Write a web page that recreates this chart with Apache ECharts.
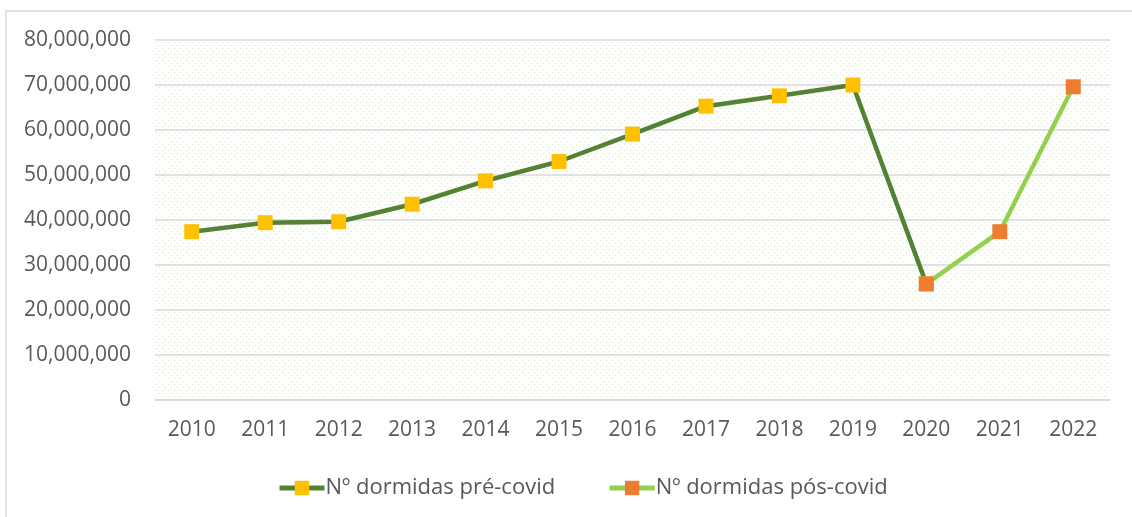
<!DOCTYPE html>
<html>
<head>
<meta charset="utf-8">
<script src="https://cdn.jsdelivr.net/npm/echarts@6/dist/echarts.min.js"></script>
<style>
  html, body { margin: 0; padding: 0; background: #fff; }
  #chart { width: 1132px; height: 517px; }
</style>
</head>
<body>
<div id="chart"></div>
<script>
// dados
let anos = ['2010', '2011', '2012', '2013', '2014', '2015', '2016', '2017', '2018', '2019', '2020', '2021', '2022'];
let preCovid = [37400000, 39400000, 39600000, 43500000, 48700000, 53000000, 59100000, 65300000, 67600000, 70000000, 25800000, null, null];
let posCovid = [null, null, null, null, null, null, null, null, null, null, 25800000, 37400000, 69600000];
let nomes = ['Nº dormidas pré-covid', 'Nº dormidas pós-covid'];

// padrao pontilhado do fundo
let tile = document.createElement('canvas');
tile.width = 6;
tile.height = 6;
let ctx = tile.getContext('2d');
ctx.fillStyle = '#d6eacb';
ctx.fillRect(0, 0, 1, 1);
ctx.fillRect(3, 3, 1, 1);

let myChart = echarts.init(document.getElementById('chart'));
let fonte = '"Open Sans", sans-serif';

let option = {
    animation: false,
    backgroundColor: '#fff',
    graphic: [{
        type: 'polyline',
        shape: { points: [[6, 530], [6, 11], [1140, 11]] },
        style: { stroke: '#d9d9d9', lineWidth: 1.5, fill: null }
    }],
    grid: {
        left: 155,
        right: 22,
        top: 40,
        bottom: 117,
        show: true,
        borderWidth: 0,
        backgroundColor: { image: tile, repeat: 'repeat' }
    },
    legend: {
        bottom: 13,
        left: 272,
        itemWidth: 45,
        itemHeight: 18,
        itemGap: 52,
        lineStyle: { width: 5 },
        textStyle: { fontFamily: fonte, fontSize: 22, color: '#595959', padding: [0, 0, 0, -4] },
        data: nomes
    },
    xAxis: {
        type: 'category',
        data: anos,
        axisLine: { show: true, lineStyle: { color: '#d9d9d9', width: 1.5 } },
        axisTick: { show: false },
        axisLabel: { margin: 20, fontFamily: fonte, fontSize: 21, color: '#595959' }
    },
    yAxis: {
        type: 'value',
        min: 0,
        max: 80000000,
        interval: 10000000,
        axisLine: { show: false },
        axisTick: { show: false },
        axisLabel: {
            margin: 24,
            fontFamily: fonte,
            fontSize: 21,
            color: '#595959',
            formatter: function (v) {
                return v.toLocaleString('en-US');
            }
        },
        splitLine: { lineStyle: { color: '#d9d9d9', width: 1.5 } }
    },
    series: [{
        name: nomes[0],
        type: 'line',
        data: preCovid,
        symbol: 'rect',
        symbolSize: 15,
        lineStyle: { color: '#548235', width: 4.5 },
        itemStyle: { color: '#ffc000' },
        z: 2
    }, {
        name: nomes[1],
        type: 'line',
        data: posCovid,
        symbol: 'rect',
        symbolSize: 15,
        lineStyle: { color: '#92d050', width: 4.5 },
        itemStyle: { color: '#ed7d31' },
        z: 3
    }]
};
myChart.setOption(option);
</script>
</body>
</html>
